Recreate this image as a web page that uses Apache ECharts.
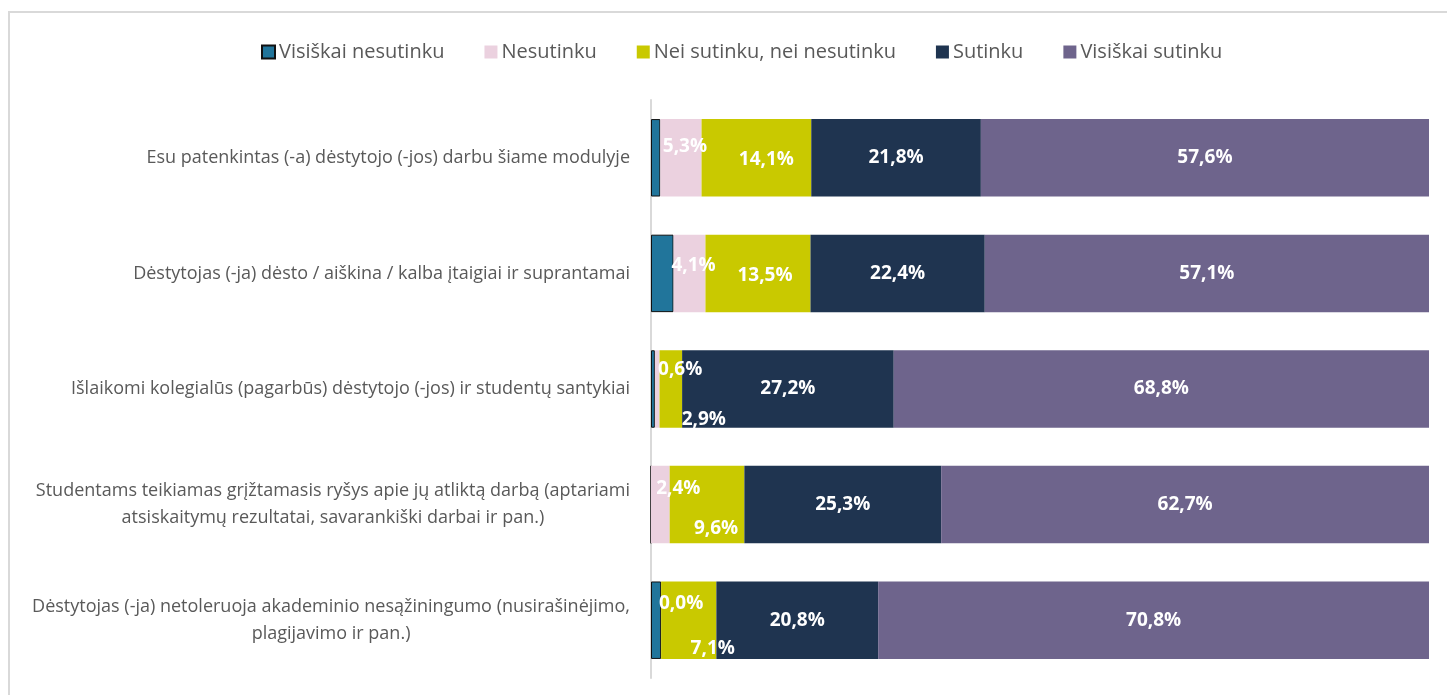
<!DOCTYPE html>
<html>
<head>
<meta charset="UTF-8">
<title>vertinimas</title>
<script src="https://cdn.jsdelivr.net/npm/echarts@6/dist/echarts.min.js"></script>
<style>
  html, body { margin:0; padding:0; background:#fff; }
  #frame {
    position:absolute; left:8px; top:11px; width:1460px; height:700px;
    border:2px solid #d9d9d9; box-sizing:border-box;
  }
  #main { position:absolute; left:0; top:0; width:1447px; height:695px; }
</style>
</head>
<body>
<div id="frame"></div>
<div id="main"></div>
<script>
// klausimai (iš viršaus į apačią)
var categories = [
  'Esu patenkintas (-a) dėstytojo (-jos) darbu šiame modulyje',
  'Dėstytojas (-ja) dėsto / aiškina / kalba įtaigiai ir suprantamai',
  'Išlaikomi kolegialūs (pagarbūs) dėstytojo (-jos) ir studentų santykiai',
  'Studentams teikiamas grįžtamasis ryšys apie jų atliktą darbą (aptariami\natsiskaitymų rezultatai, savarankiški darbai ir pan.)',
  'Dėstytojas (-ja) netoleruoja akademinio nesąžiningumo (nusirašinėjimo,\nplagijavimo ir pan.)'
];
var seriesNames = ['Visiškai nesutinku', 'Nesutinku', 'Nei sutinku, nei nesutinku', 'Sutinku', 'Visiškai sutinku'];
var visiskaiNesutinku = [1.2, 2.9, 0.5, 0.0, 1.3];
var nesutinku         = [5.3, 4.1, 0.6, 2.4, 0.0];
var nei               = [14.1, 13.5, 2.9, 9.6, 7.1];
var sutinku           = [21.8, 22.4, 27.2, 25.3, 20.8];
var visiskaiSutinku   = [57.6, 57.1, 68.8, 62.7, 70.8];

var colors = ['#21759b', '#ebd1df', '#c9c900', '#1f3450', '#6e648c'];
// etikečių poslinkiai (kaip Excel išdėstė mažas reikšmes)
var labelOffsets = [
  null,
  [[4,-11],[4,-8],[23,-19],[18,-16],[20,-17]],
  [[10,2],[7,2],[33,31],[9,24],[24,28]],
  [[0,0],[0,0],[0,0],[0,0],[0,0]],
  [[0,0],[0,0],[0,0],[0,0],[0,0]]
];
var allData = [visiskaiNesutinku, nesutinku, nei, sutinku, visiskaiSutinku];

function fmt(v) { return v.toFixed(1).replace('.', ',') + '%'; }

var series = seriesNames.map(function (name, si) {
  return {
    name: name,
    type: 'bar',
    stack: 'all',
    barWidth: '67%',
    itemStyle: si === 0 ? { color: colors[si], borderColor: '#111', borderWidth: 1 } : { color: colors[si] },
    label: {
      show: si > 0,
      position: 'inside',
      color: '#fff',
      fontFamily: 'Open Sans',
      fontWeight: 'bold',
      fontSize: 19,
      formatter: function (p) { return fmt(p.value); }
    },
    labelLayout: function (p) {
      var o = labelOffsets[p.seriesIndex] ? labelOffsets[p.seriesIndex][p.dataIndex] : [0, 0];
      return { dx: o[0], dy: o[1], hideOverlap: false };
    },
    data: allData[si]
  };
});

var chart = echarts.init(document.getElementById('main'));
chart.setOption({
  animation: false,
  color: colors,
  legend: {
    top: 37,
    left: 256,
    itemWidth: 13,
    itemHeight: 13,
    itemGap: 40,
    icon: 'rect',
    textStyle: { color: '#595959', fontSize: 20, fontFamily: 'Open Sans', padding: [0,0,0,-1] },
    data: seriesNames
  },
  grid: { left: 651, right: 18, top: 100, bottom: 17, outerBoundsMode: 'none' },
  xAxis: { type: 'value', min: 0, max: 100, show: false },
  yAxis: {
    type: 'category',
    inverse: true,
    data: categories,
    axisTick: { show: false },
    axisLine: { show: true, lineStyle: { color: '#d9d9d9', width: 2 } },
    axisLabel: {
      margin: 21,
      align: 'right',
      color: '#595959',
      fontFamily: 'Open Sans',
      fontSize: 18,
      lineHeight: 27,
      formatter: function (v) {
        return v.split('\n').map(function (s) { return '{c|' + s + '}'; }).join('\n');
      },
      rich: { c: { align: 'center', color: '#595959', fontFamily: 'Open Sans', fontSize: 18, lineHeight: 27 } }
    }
  },
  series: series
});
</script>
</body>
</html>
